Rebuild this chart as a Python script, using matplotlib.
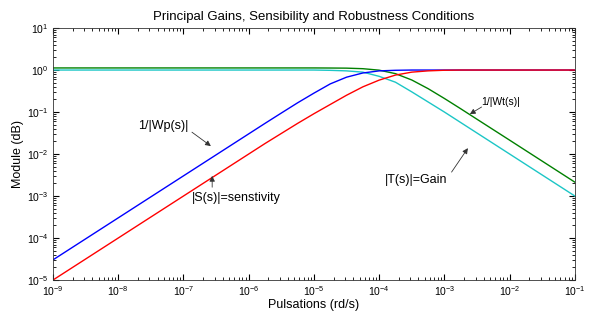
import matplotlib
matplotlib.use("Agg")
import matplotlib.pyplot as plt
import matplotlib.ticker as mticker
import numpy as np

plt.rcParams['font.family'] = ['Liberation Sans', 'DejaVu Sans']
plt.rcParams['mathtext.fontset'] = 'custom'
plt.rcParams['mathtext.rm'] = 'Liberation Sans'
plt.rcParams['mathtext.it'] = 'Liberation Sans:italic'

# log10 of pulsation (rd/s) where values were read
logw = [-9, -6, -5.75, -5.5, -5.25, -5, -4.75, -4.5, -4.25, -4, -3.75,
        -3.5, -3.25, -3, -2.75, -2.5, -2, -1]

# log10 of module
inv_wp = [-4.52, -1.52, -1.27, -1.024, -0.78, -0.55, -0.33, -0.17, -0.07, -0.02, -0.006,
          0, 0, 0, 0, 0, 0, 0]
sens   = [-5.0, -2.0, -1.75, -1.51, -1.27, -1.04, -0.82, -0.6, -0.4, -0.24, -0.12,
          -0.05, -0.02, -0.005, 0, 0, 0, 0]
gain   = [0, 0, 0, 0, 0, 0, -0.007, -0.02, -0.05, -0.15, -0.29,
          -0.52, -0.76, -1.0, -1.25, -1.5, -2.0, -3.0]
inv_wt = [0.05, 0.05, 0.05, 0.05, 0.05, 0.05, 0.048, 0.045, 0.032, -0.003, -0.086,
          -0.237, -0.443, -0.677, -0.922, -1.172, -1.67, -2.67]

w = 10.0 ** np.array(logw)

fig = plt.figure(figsize=(5.89, 3.13), dpi=100)
ax = fig.add_axes([0.09, 0.1054, 0.886, 0.805])

ax.loglog(w, 10.0 ** np.array(gain), color='#1cc6c6', lw=1)
ax.loglog(w, 10.0 ** np.array(inv_wt), color='#008000', lw=1)
ax.loglog(w, 10.0 ** np.array(inv_wp), color='#0000ff', lw=1)
ax.loglog(w, 10.0 ** np.array(sens), color='#ff0000', lw=1)

ax.set_xlim(1e-9, 1e-1)
ax.set_ylim(1e-5, 1e1)
ax.xaxis.set_minor_formatter(mticker.NullFormatter())
ax.yaxis.set_minor_formatter(mticker.NullFormatter())
ax.tick_params(which='both', direction='in', top=True, right=True, labelsize=7.5, pad=3)
ax.tick_params(which='major', length=4)
ax.tick_params(which='minor', length=2)
for s in ax.spines.values():
    s.set_linewidth(0.6)
    s.set_color('#333333')

ax.set_title('Principal Gains, Sensibility and Robustness Conditions', fontsize=9.5, pad=6)
ax.set_xlabel('Pulsations (rd/s)', fontsize=9, labelpad=1)
ax.set_ylabel('Module (dB)', fontsize=9, labelpad=2)

arr = dict(arrowstyle='-|>', color='#333333', lw=0.6, mutation_scale=8, shrinkA=0, shrinkB=0)
def P(lx, ly):
    return (10.0 ** lx, 10.0 ** ly)

ax.text(*P(-7.70, -1.33), '1/|Wp(s)|', fontsize=9, va='center', ha='left')
ax.annotate('', xy=P(-6.58, -1.81), xytext=P(-6.87, -1.48), arrowprops=arr)

ax.text(*P(-6.87, -3.05), '|S(s)|=senstivity', fontsize=9, va='center', ha='left')
ax.annotate('', xy=P(-6.56, -2.52), xytext=P(-6.56, -2.79), arrowprops=arr)

ax.text(*P(-3.91, -2.62), '|T(s)|=Gain', fontsize=9, va='center', ha='left')
ax.annotate('', xy=P(-2.64, -1.86), xytext=P(-2.89, -2.43), arrowprops=arr)

ax.text(*P(-2.43, -0.76), '1/|Wt(s)|', fontsize=7.5, va='center', ha='left')
ax.annotate('', xy=P(-2.61, -1.05), xytext=P(-2.43, -0.88), arrowprops=arr)

fig.savefig('out.png', dpi=100)
